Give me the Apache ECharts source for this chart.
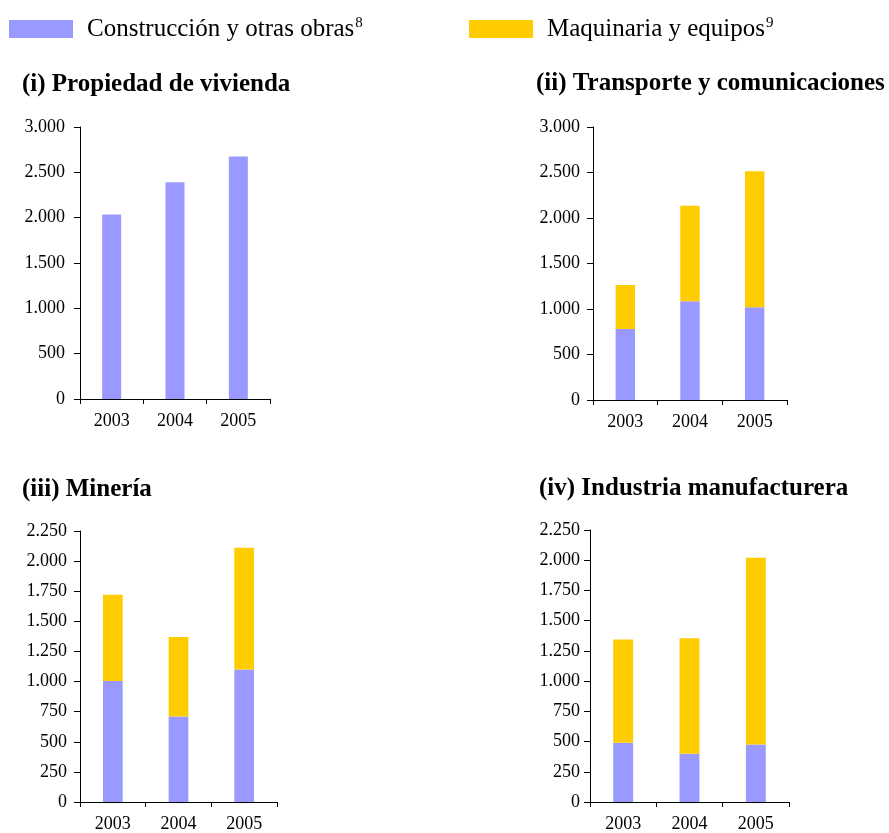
<!DOCTYPE html>
<html>
<head>
<meta charset="utf-8">
<script src="https://cdn.jsdelivr.net/npm/echarts@6/dist/echarts.min.js"></script>
<style>
html,body{margin:0;padding:0;background:#fff;}
#chart{width:889px;height:833px;}
</style>
</head>
<body>
<div id="chart"></div>
<script>
// ---- data ----
const years = ['2003', '2004', '2005'];
const seriesNames = ['Construcción y otras obras', 'Maquinaria y equipos'];
const footnotes = ['8', '9'];
const panelTitles = ['(i) Propiedad de vivienda', '(ii) Transporte y comunicaciones', '(iii) Minería', '(iv) Industria manufacturera'];
const viviendaConstruccion = [2035, 2390, 2675];
const transporteConstruccion = [780, 1085, 1020];
const transporteMaquinaria = [485, 1050, 1495];
const mineriaConstruccion = [1005, 710, 1100];
const mineriaMaquinaria = [715, 660, 1010];
const industriaConstruccion = [490, 400, 475];
const industriaMaquinaria = [855, 955, 1545];
const yMaxTop = 3000, yIntervalTop = 500;
const yMaxBottom = 2250, yIntervalBottom = 250;

// ---- styling ----
const BLUE = '#9999FF';
const YELLOW = '#FFCC00';
const SERIF = '"Liberation Serif", "Times New Roman", serif';

function fmt(v) {
  return String(v).replace(/\B(?=(\d{3})+(?!\d))/g, '.');
}

const grids = [
  {left: 80, top: 127, width: 190, height: 272},
  {left: 593, top: 127, width: 194, height: 273},
  {left: 80, top: 531, width: 197, height: 273},
  {left: 590, top: 530, width: 199, height: 274}
];
const yMargins = [15, 13, 13, 10];
const titlePos = [
  {left: 22, top: 72},
  {left: 536, top: 71},
  {left: 22, top: 477},
  {left: 539, top: 476}
];

const axisLine = {show: true, lineStyle: {color: '#000', width: 1}};

const xAxes = grids.map((g, i) => ({
  type: 'category',
  gridIndex: i,
  data: years,
  boundaryGap: true,
  axisLine: axisLine,
  axisTick: {show: true, length: 5, lineStyle: {color: '#000'}},
  axisLabel: {fontFamily: SERIF, fontSize: 18, color: '#000', margin: 13},
  splitLine: {show: false}
}));

const yAxes = grids.map((g, i) => ({
  type: 'value',
  gridIndex: i,
  min: 0,
  max: i < 2 ? yMaxTop : yMaxBottom,
  interval: i < 2 ? yIntervalTop : yIntervalBottom,
  axisLine: axisLine,
  axisTick: {show: true, length: 6, lineStyle: {color: '#000'}},
  axisLabel: {fontFamily: SERIF, fontSize: 18, color: '#000', margin: yMargins[i], formatter: fmt},
  splitLine: {show: false}
}));

function bar(nameIdx, data, gi) {
  return {
    name: seriesNames[nameIdx],
    type: 'bar',
    xAxisIndex: gi,
    yAxisIndex: gi,
    stack: 'g' + gi,
    barWidth: '30%',
    data: data,
    itemStyle: {color: nameIdx === 0 ? BLUE : YELLOW},
    emphasis: {disabled: true},
    animation: false
  };
}

const series = [
  bar(0, viviendaConstruccion, 0),
  bar(0, transporteConstruccion, 1),
  bar(1, transporteMaquinaria, 1),
  bar(0, mineriaConstruccion, 2),
  bar(1, mineriaMaquinaria, 2),
  bar(0, industriaConstruccion, 3),
  bar(1, industriaMaquinaria, 3)
];

function legend(idx, left) {
  return {
    data: [seriesNames[idx]],
    left: left,
    top: 16,
    padding: 0,
    itemWidth: 64,
    itemHeight: 18,
    icon: 'rect',
    selectedMode: false,
    formatter: function (name) { return '{a|' + name + '}{s|' + footnotes[idx] + '}'; },
    textStyle: {
      color: '#000',
      rich: {
        a: {fontFamily: SERIF, fontSize: 25, color: '#000', padding: [0, 0, 0, 9], lineHeight: 26},
        s: {fontFamily: SERIF, fontSize: 15, color: '#000', verticalAlign: 'top', lineHeight: 26, padding: [0, 0, 0, 1]}
      }
    }
  };
}

const option = {
  backgroundColor: '#fff',
  animation: false,
  title: panelTitles.map((t, i) => ({
    text: t,
    left: titlePos[i].left,
    top: titlePos[i].top,
    padding: 0,
    textStyle: {fontFamily: SERIF, fontSize: 25, fontWeight: 'bold', color: '#000'}
  })),
  legend: [legend(0, 9), legend(1, 469)],
  grid: grids,
  xAxis: xAxes,
  yAxis: yAxes,
  series: series
};

const chart = echarts.init(document.getElementById('chart'), null, {renderer: 'canvas'});
chart.setOption(option);
</script>
</body>
</html>
